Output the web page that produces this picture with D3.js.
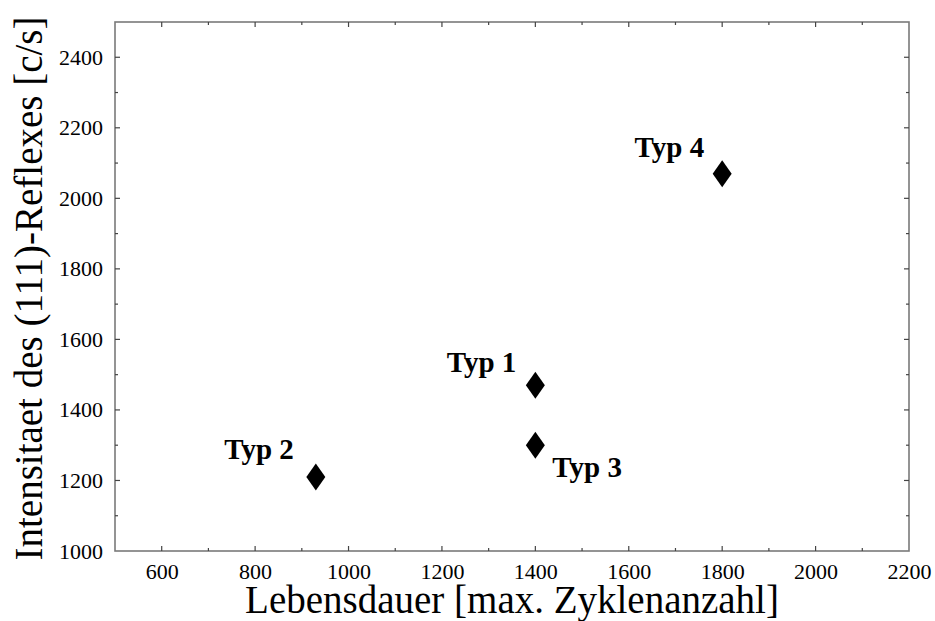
<!DOCTYPE html>
<html>
<head>
<meta charset="utf-8">
<script src="https://cdn.jsdelivr.net/npm/d3@7"></script>
<style>
  html, body { margin: 0; padding: 0; background: #fff; }
  svg { display: block; }
</style>
</head>
<body>
<svg id="chart" width="935" height="621"></svg>
<script>
// ---- data ----
const types = ["Typ 1", "Typ 2", "Typ 3", "Typ 4"];
const lifetime = [1400, 930, 1400, 1800];      // Lebensdauer [max. Zyklenanzahl]
const intensity = [1470, 1210, 1300, 2070];    // Intensitaet [c/s]
const xTickValues = [600, 800, 1000, 1200, 1400, 1600, 1800, 2000, 2200];
const yTickValues = [1000, 1200, 1400, 1600, 1800, 2000, 2200, 2400];
const xTitle = "Lebensdauer [max. Zyklenanzahl]";
const yTitle = "Intensitaet des (111)-Reflexes [c/s]";

// ---- layout ----
const W = 935, H = 621;
const m = { left: 115, right: 26, top: 22, bottom: 70 };
const svg = d3.select("#chart");

const x = d3.scaleLinear().domain([500, 2200]).range([m.left, W - m.right]);
const y = d3.scaleLinear().domain([1000, 2500]).range([H - m.bottom, m.top]);

const serif = "'Liberation Serif', 'Times New Roman', serif";
const frameColor = "#7a7a7a";
const tickColor = "#444";

// frame
svg.append("rect")
  .attr("x", x.range()[0]).attr("y", y.range()[1])
  .attr("width", x.range()[1] - x.range()[0])
  .attr("height", y.range()[0] - y.range()[1])
  .attr("fill", "none").attr("stroke", frameColor).attr("stroke-width", 1.6);

// minor/major ticks (inward) on all sides
const xMinor = d3.range(600, 2200, 100);
const yMinor = d3.range(1100, 2500, 100);
function tickLen(v) { return v % 200 === 0 ? 5 : 3; }

const tg = svg.append("g").attr("stroke", tickColor).attr("stroke-width", 1.2);
xMinor.forEach(v => {
  tg.append("line").attr("x1", x(v)).attr("x2", x(v))
    .attr("y1", y.range()[0]).attr("y2", y.range()[0] - tickLen(v));
  tg.append("line").attr("x1", x(v)).attr("x2", x(v))
    .attr("y1", y.range()[1]).attr("y2", y.range()[1] + tickLen(v));
});
yMinor.forEach(v => {
  tg.append("line").attr("y1", y(v)).attr("y2", y(v))
    .attr("x1", x.range()[0]).attr("x2", x.range()[0] + tickLen(v));
  tg.append("line").attr("y1", y(v)).attr("y2", y(v))
    .attr("x1", x.range()[1]).attr("x2", x.range()[1] - tickLen(v));
});

// x tick labels via axis
const xAxis = svg.append("g")
  .attr("transform", `translate(0,${y.range()[0]})`)
  .call(d3.axisBottom(x).tickValues(xTickValues).tickSize(0).tickPadding(12).tickFormat(d3.format("d")));
xAxis.select(".domain").remove();
xAxis.selectAll("text")
  .attr("font-family", serif).attr("font-size", 22).attr("fill", "#000");

// y tick labels via axis
const yAxis = svg.append("g")
  .attr("transform", `translate(${x.range()[0]},0)`)
  .call(d3.axisLeft(y).tickValues(yTickValues).tickSize(0).tickPadding(12).tickFormat(d3.format("d")));
yAxis.select(".domain").remove();
yAxis.selectAll("text")
  .attr("font-family", serif).attr("font-size", 22).attr("fill", "#000");

// axis titles
svg.append("text")
  .attr("x", (x.range()[0] + x.range()[1]) / 2)
  .attr("y", 613)
  .attr("text-anchor", "middle")
  .attr("font-family", serif).attr("font-size", 39).attr("fill", "#000")
  .text(xTitle);

svg.append("text")
  .attr("transform", `translate(42,${(y.range()[0] + y.range()[1]) / 2 + 2}) rotate(-90)`)
  .attr("text-anchor", "middle")
  .attr("font-family", serif).attr("font-size", 39).attr("fill", "#000")
  .text(yTitle);

// points (diamonds)
const pts = types.map((t, i) => ({ name: t, lx: lifetime[i], iy: intensity[i] }));
const hw = 9.5, hh = 13.5;
svg.append("g").selectAll("path").data(pts).join("path")
  .attr("d", d => {
    const cx = x(d.lx), cy = y(d.iy);
    return `M${cx},${cy - hh}L${cx + hw},${cy}L${cx},${cy + hh}L${cx - hw},${cy}Z`;
  })
  .attr("fill", "#000");

// labels
const labelPlacement = {
  "Typ 1": { dx: -19, dy: -13, anchor: "end" },
  "Typ 2": { dx: -22, dy: -18, anchor: "end" },
  "Typ 3": { dx: 17, dy: 32, anchor: "start" },
  "Typ 4": { dx: -18, dy: -17, anchor: "end" }
};
svg.append("g").selectAll("text").data(pts).join("text")
  .attr("x", d => x(d.lx) + labelPlacement[d.name].dx)
  .attr("y", d => y(d.iy) + labelPlacement[d.name].dy)
  .attr("text-anchor", d => labelPlacement[d.name].anchor)
  .attr("font-family", serif).attr("font-weight", "bold").attr("font-size", 29)
  .attr("fill", "#000")
  .text(d => d.name);
</script>
</body>
</html>
